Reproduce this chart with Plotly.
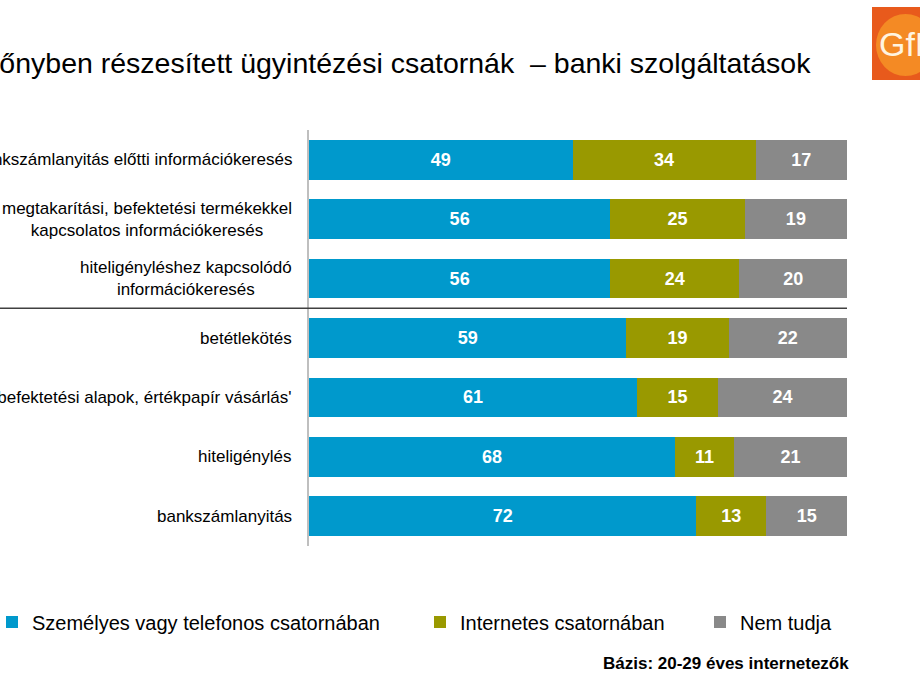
import plotly.graph_objects as go

categories = [
    "bankszámlanyitás előtti információkeresés",
    "megtakarítási, befektetési termékekkel<br>kapcsolatos információkeresés",
    "hiteligényléshez kapcsolódó<br>információkeresés",
    "betétlekötés",
    "'befektetési alapok, értékpapír vásárlás'",
    "hiteligénylés",
    "bankszámlanyitás",
]
series_names = ["Személyes vagy telefonos csatornában", "Internetes csatornában", "Nem tudja"]
personal = [49, 56, 56, 59, 61, 68, 72]
internet = [34, 25, 24, 19, 15, 11, 13]
unknown = [17, 19, 20, 22, 24, 21, 15]
values = [personal, internet, unknown]
colors = ["#0099CC", "#999900", "#898989"]

title_text = "Előnyben részesített ügyintézési csatornák  – banki szolgáltatások"
base_text = "Bázis: 20-29 éves internetezők"

W, H = 920, 690
L, R, T, B = 309, 847, 130, 546


def px(x):
    return (x - L) / (R - L)


def py(y):
    return (B - y) / (B - T)


FONT = "Liberation Sans, Arial, sans-serif"
NARROW = "Liberation Sans Narrow, Arial Narrow, Liberation Sans, Arial, sans-serif"

fig = go.Figure()
legend_ids = ["legend", "legend2", "legend3"]
for name, vals, col, lg in zip(series_names, values, colors, legend_ids):
    fig.add_trace(go.Bar(
        y=categories, x=vals, name=name, orientation="h",
        marker=dict(color=col, line=dict(width=0)),
        texttemplate="%{x}", textposition="inside", insidetextanchor="middle",
        textangle=0,
        textfont=dict(family=NARROW, size=18, color="white", weight="bold"),
        legend=lg,
    ))

annotations = []
annotations.append(dict(
    text=title_text, xref="paper", yref="paper", x=px(813), y=py(63),
    xanchor="right", yanchor="middle", showarrow=False,
    font=dict(family=FONT, size=28.5, color="#000000"),
))
for c in categories:
    annotations.append(dict(
        text=c, xref="paper", yref="y", x=px(294), y=c,
        xanchor="right", yanchor="middle", align="center", showarrow=False,
        font=dict(family=FONT, size=17, color="#000000"),
    ))
annotations.append(dict(
    text="<b>" + base_text + "</b>", xref="paper", yref="paper", x=px(851), y=py(663),
    xanchor="right", yanchor="middle", showarrow=False,
    font=dict(family=FONT, size=17, color="#000000"),
))
annotations.append(dict(
    text="GfK", xref="paper", yref="paper", x=px(877), y=py(44),
    xanchor="left", yanchor="middle", showarrow=False,
    font=dict(family="Liberation Sans Narrow, Arial Narrow, Liberation Sans", size=34, color="#FFF4E0"),
))

shapes = [
    dict(type="line", xref="paper", yref="y", x0=px(0), x1=1, y0=2.5, y1=2.5,
         line=dict(color="#404040", width=1.5)),
    dict(type="rect", xref="paper", yref="paper", x0=px(872), x1=px(930),
         y0=py(80), y1=py(7), fillcolor="#E85A1C", line=dict(width=0), layer="below"),
    dict(type="circle", xref="paper", yref="paper", x0=px(876), x1=px(935),
         y0=py(76), y1=py(14), fillcolor="#F48A24", line=dict(width=0), layer="below"),
]

leg_common = dict(orientation="h", yanchor="middle", xanchor="left",
                  xref="paper", yref="paper",
                  font=dict(family=FONT, size=20, color="#000000"),
                  bgcolor="rgba(0,0,0,0)", traceorder="normal")

fig.update_layout(
    width=W, height=H, autosize=False,
    margin=dict(l=L, r=W - R, t=T, b=H - B, pad=0, autoexpand=False),
    paper_bgcolor="white", plot_bgcolor="white",
    barmode="stack", bargap=0.33,
    font=dict(family=FONT, color="#000000"),
    xaxis=dict(range=[0, 100], visible=False, fixedrange=True),
    yaxis=dict(type="category", categoryarray=categories, autorange="reversed",
               showticklabels=False, showgrid=False, zeroline=False,
               showline=True, linecolor="#BFBFBF", linewidth=2, ticks=""),
    showlegend=True,
    legend=dict(x=px(-8), y=py(622), **leg_common),
    legend2=dict(x=px(420), y=py(622), **leg_common),
    legend3=dict(x=px(700), y=py(622), **leg_common),
    annotations=annotations,
    shapes=shapes,
)

fig.write_html("out.html")
